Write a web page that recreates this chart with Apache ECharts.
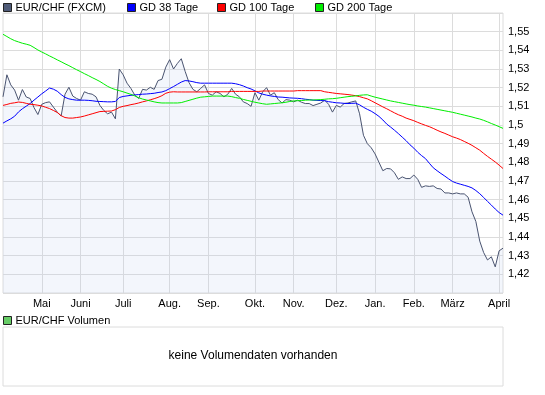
<!DOCTYPE html>
<html><head><meta charset="utf-8">
<script src="https://cdn.jsdelivr.net/npm/echarts@6/dist/echarts.min.js"></script>
<style>html,body{margin:0;padding:0;background:#fff}#c{width:545px;height:395px}</style>
</head><body><div id="c"></div>
<script>
// Month segments (first one is the partial April 2009 segment, unlabeled)
const monthLabels = ['', 'Mai', 'Juni', 'Juli', 'Aug.', 'Sep.', 'Okt.', 'Nov.', 'Dez.', 'Jan.', 'Feb.', 'März', 'April'];

// EUR/CHF close, sampled about every second trading day, per month
const priceApr09 = [1.5151, 1.5269, 1.5215, 1.5187, 1.5133, 1.5190, 1.5150, 1.5142, 1.5093, 1.5056];
const priceMai   = [1.5111, 1.5120, 1.5124, 1.5096, 1.5069, 1.5048, 1.5165, 1.5202, 1.5155, 1.5142];
const priceJun   = [1.5133, 1.5178, 1.5169, 1.5165, 1.5151, 1.5105, 1.5078, 1.5060, 1.5069, 1.5033, 1.5300];
const priceJul   = [1.5269, 1.5224, 1.5196, 1.5160, 1.5142, 1.5191, 1.5187, 1.5202, 1.5191, 1.5238, 1.5245, 1.5310];
const priceAug   = [1.5350, 1.5300, 1.5330, 1.5355, 1.5287, 1.5227, 1.5191, 1.5178, 1.5196, 1.5215];
const priceSep   = [1.5169, 1.5160, 1.5178, 1.5169, 1.5151, 1.5165, 1.5196, 1.5165, 1.5151, 1.5124, 1.5115, 1.5100];
const priceOkt   = [1.5173, 1.5133, 1.5178, 1.5200, 1.5160, 1.5173, 1.5136, 1.5118, 1.5136, 1.5133];
const priceNov   = [1.5124, 1.5133, 1.5122, 1.5115, 1.5115, 1.5104, 1.5111, 1.5118, 1.5133, 1.5111, 1.5069];
const priceDez   = [1.5105, 1.5096, 1.5115, 1.5118, 1.5124, 1.5129, 1.5060, 1.4945, 1.4900, 1.4878];
const priceJan   = [1.4845, 1.4800, 1.4755, 1.4767, 1.4765, 1.4744, 1.4709, 1.4722, 1.4713, 1.4713];
const priceFeb   = [1.4732, 1.4709, 1.4666, 1.4674, 1.4671, 1.4674, 1.4660, 1.4657, 1.4636, 1.4636];
const priceMar   = [1.4631, 1.4636, 1.4631, 1.4631, 1.4613, 1.4535, 1.4483, 1.4378, 1.4317, 1.4277, 1.4294, 1.4240];
const priceApr10 = [1.4326, 1.4340];

const gd38 = [
  1.5010, 1.5022, 1.5033, 1.5047, 1.5070, 1.5087, 1.5101, 1.5115, 1.5133, 1.5150,
  1.5167, 1.5182, 1.5198, 1.5192, 1.5181, 1.5163, 1.5148, 1.5140, 1.5136, 1.5133,
  1.5133, 1.5133, 1.5132, 1.5130, 1.5127, 1.5126, 1.5125, 1.5124, 1.5124, 1.5126, 1.5147,
  1.5153, 1.5156, 1.5159, 1.5161, 1.5163, 1.5165, 1.5166, 1.5168, 1.5170, 1.5174, 1.5177, 1.5184,
  1.5195, 1.5206, 1.5218, 1.5230, 1.5238, 1.5236, 1.5232, 1.5227, 1.5224, 1.5224,
  1.5224, 1.5224, 1.5224, 1.5224, 1.5224, 1.5224, 1.5224, 1.5221, 1.5216, 1.5209, 1.5200, 1.5193,
  1.5183, 1.5172, 1.5165, 1.5160, 1.5156, 1.5153, 1.5150, 1.5149, 1.5147, 1.5145,
  1.5144, 1.5143, 1.5141, 1.5138, 1.5136, 1.5133, 1.5132, 1.5131, 1.5130, 1.5125, 1.5122,
  1.5119, 1.5118, 1.5116, 1.5115, 1.5116, 1.5117, 1.5108, 1.5095, 1.5084, 1.5074,
  1.5061, 1.5046, 1.5027, 1.5005, 1.4989, 1.4972, 1.4954, 1.4935, 1.4916, 1.4894,
  1.4876, 1.4854, 1.4836, 1.4820, 1.4795, 1.4771, 1.4755, 1.4740, 1.4726, 1.4711,
  1.4697, 1.4689, 1.4683, 1.4677, 1.4671, 1.4663, 1.4649, 1.4632, 1.4612, 1.4591, 1.4571, 1.4550,
  1.4531, 1.4517
];
const gd100 = [
  1.5105, 1.5110, 1.5116, 1.5119, 1.5123, 1.5121, 1.5116, 1.5111, 1.5109, 1.5106,
  1.5102, 1.5095, 1.5088, 1.5078, 1.5067, 1.5050, 1.5040, 1.5037, 1.5037, 1.5040,
  1.5043, 1.5048, 1.5054, 1.5060, 1.5066, 1.5072, 1.5073, 1.5074, 1.5075, 1.5082, 1.5094,
  1.5100, 1.5104, 1.5109, 1.5113, 1.5118, 1.5124, 1.5129, 1.5135, 1.5141, 1.5148, 1.5157, 1.5170,
  1.5176, 1.5178, 1.5177, 1.5177, 1.5177, 1.5177, 1.5177, 1.5177, 1.5177, 1.5177,
  1.5178, 1.5178, 1.5178, 1.5178, 1.5178, 1.5178, 1.5180, 1.5180, 1.5180, 1.5180, 1.5180, 1.5180,
  1.5180, 1.5180, 1.5182, 1.5182, 1.5182, 1.5182, 1.5182, 1.5182, 1.5182, 1.5182,
  1.5182, 1.5184, 1.5184, 1.5184, 1.5184, 1.5184, 1.5184, 1.5184, 1.5178, 1.5175, 1.5172,
  1.5169, 1.5167, 1.5165, 1.5163, 1.5160, 1.5157, 1.5152, 1.5146, 1.5140, 1.5130,
  1.5119, 1.5108, 1.5097, 1.5087, 1.5076, 1.5065, 1.5055, 1.5047, 1.5037, 1.5030,
  1.5023, 1.5014, 1.5006, 1.4998, 1.4991, 1.4982, 1.4972, 1.4963, 1.4955, 1.4946,
  1.4937, 1.4930, 1.4922, 1.4912, 1.4902, 1.4891, 1.4878, 1.4865, 1.4848, 1.4832, 1.4817, 1.4802,
  1.4785, 1.4767
];
const gd200 = [
  1.5486, 1.5474, 1.5462, 1.5452, 1.5445, 1.5438, 1.5433, 1.5427, 1.5415, 1.5402,
  1.5391, 1.5381, 1.5370, 1.5360, 1.5349, 1.5339, 1.5328, 1.5318, 1.5307, 1.5296,
  1.5286, 1.5275, 1.5265, 1.5254, 1.5244, 1.5233, 1.5220, 1.5207, 1.5197, 1.5190, 1.5184,
  1.5178, 1.5171, 1.5164, 1.5156, 1.5146, 1.5139, 1.5134, 1.5129, 1.5124, 1.5120, 1.5118, 1.5118,
  1.5118, 1.5118, 1.5118, 1.5120, 1.5126, 1.5132, 1.5138, 1.5144, 1.5149, 1.5151,
  1.5153, 1.5155, 1.5155, 1.5155, 1.5155, 1.5155, 1.5152, 1.5147, 1.5143, 1.5137, 1.5132, 1.5127,
  1.5122, 1.5118, 1.5114, 1.5111, 1.5113, 1.5115, 1.5117, 1.5119, 1.5122, 1.5126,
  1.5129, 1.5130, 1.5131, 1.5133, 1.5134, 1.5134, 1.5135, 1.5136, 1.5138, 1.5140, 1.5141,
  1.5143, 1.5146, 1.5149, 1.5152, 1.5154, 1.5156, 1.5159, 1.5161, 1.5162, 1.5155,
  1.5149, 1.5144, 1.5139, 1.5134, 1.5129, 1.5125, 1.5121, 1.5117, 1.5113, 1.5109,
  1.5106, 1.5102, 1.5099, 1.5096, 1.5092, 1.5088, 1.5084, 1.5080, 1.5076, 1.5072,
  1.5068, 1.5063, 1.5058, 1.5053, 1.5048, 1.5043, 1.5037, 1.5032, 1.5025, 1.5017, 1.5008, 1.5000,
  1.4991, 1.4982
];

const yTickValues = [1.42, 1.43, 1.44, 1.45, 1.46, 1.47, 1.48, 1.49, 1.50, 1.51, 1.52, 1.53, 1.54, 1.55];
const volumeNote = 'keine Volumendaten vorhanden';

const priceByMonth = [priceApr09, priceMai, priceJun, priceJul, priceAug, priceSep, priceOkt,
  priceNov, priceDez, priceJan, priceFeb, priceMar, priceApr10];

const categories = [];
const catLabel = {};
const price = [];
priceByMonth.forEach((arr, m) => {
  arr.forEach((v, k) => {
    const key = m + '-' + k;
    categories.push(key);
    catLabel[key] = k === 0 ? monthLabels[m] : '';
    price.push(v);
  });
});
const isMonthTick = (idx, val) => catLabel[val] !== '' && catLabel[val] !== undefined;

const FONT = 'Liberation Sans, Arial, Helvetica, sans-serif';
const GRID_COLOR = '#dcdcdc';

const legendBase = {
  padding: 0, itemWidth: 8, itemHeight: 8, icon: 'rect', itemGap: 0, selectedMode: false,
  textStyle: { fontSize: 11, color: '#000', fontFamily: FONT, padding: [0, 0, 0, -1] },
  itemStyle: { borderColor: '#222', borderWidth: 1 }
};

const chart = echarts.init(document.getElementById('c'), null, { renderer: 'canvas' });
chart.setOption({
  animation: false,
  backgroundColor: '#fff',
  textStyle: { fontFamily: FONT },
  legend: [
    Object.assign({}, legendBase, { left: 3, top: 2, data: ['EUR/CHF (FXCM)'] }),
    Object.assign({}, legendBase, { left: 127, top: 2, data: ['GD 38 Tage'] }),
    Object.assign({}, legendBase, { left: 217, top: 2, data: ['GD 100 Tage'] }),
    Object.assign({}, legendBase, { left: 315, top: 2, data: ['GD 200 Tage'] }),
    Object.assign({}, legendBase, { left: 3, top: 315, data: ['EUR/CHF Volumen'] })
  ],
  grid: [
    { left: 3, top: 13, width: 500, height: 280, show: true, borderColor: GRID_COLOR, borderWidth: 1, backgroundColor: 'transparent' },
    { left: 3, top: 327, width: 500, height: 59, show: true, borderColor: GRID_COLOR, borderWidth: 1, backgroundColor: 'transparent' }
  ],
  xAxis: [
    {
      type: 'category', gridIndex: 0, data: categories, boundaryGap: false,
      axisLine: { show: false }, axisTick: { show: false },
      axisLabel: { interval: isMonthTick, formatter: v => catLabel[v], color: '#000', fontSize: 11, margin: 5, fontFamily: FONT },
      splitLine: { show: true, interval: isMonthTick, lineStyle: { color: GRID_COLOR, width: 1 } }
    },
    { type: 'category', gridIndex: 1, data: [], show: false }
  ],
  yAxis: [
    {
      type: 'value', gridIndex: 0, position: 'right', min: 1.41, max: 1.56, interval: 0.01,
      axisLine: { show: false }, axisTick: { show: false },
      axisLabel: {
        color: '#000', fontSize: 11, margin: 5, fontFamily: FONT,
        formatter: v => {
          const t = yTickValues.find(x => Math.abs(x - v) < 1e-6);
          if (t === undefined) return '';
          return t.toFixed(2).replace(/0$/, '').replace('.', ',');
        }
      },
      splitLine: { show: true, lineStyle: { color: GRID_COLOR, width: 1 } }
    },
    { type: 'value', gridIndex: 1, show: false, min: 0, max: 1 }
  ],
  series: [
    {
      name: 'EUR/CHF (FXCM)', type: 'line', xAxisIndex: 0, yAxisIndex: 0, data: price,
      symbol: 'none', color: '#4f5b78', z: 2,
      lineStyle: { color: '#4a5470', width: 1 },
      itemStyle: { color: '#4f5b78' },
      areaStyle: { color: 'rgba(190,205,240,0.26)', origin: 'start' }
    },
    { name: 'GD 38 Tage', type: 'line', data: gd38, symbol: 'none', color: '#0000ff', z: 3,
      lineStyle: { color: '#0000ff', width: 1 }, itemStyle: { color: '#0000ff' } },
    { name: 'GD 100 Tage', type: 'line', data: gd100, symbol: 'none', color: '#ff0000', z: 3,
      lineStyle: { color: '#ff0000', width: 1 }, itemStyle: { color: '#ff0000' } },
    { name: 'GD 200 Tage', type: 'line', data: gd200, symbol: 'none', color: '#00ee00', z: 3,
      lineStyle: { color: '#00ee00', width: 1 }, itemStyle: { color: '#00ee00' } },
    { name: 'EUR/CHF Volumen', type: 'line', xAxisIndex: 1, yAxisIndex: 1, data: [], symbol: 'none',
      color: '#66cc66', itemStyle: { color: '#66cc66' } }
  ],
  graphic: [
    { type: 'text', x: 253, y: 356, style: { text: volumeNote, textAlign: 'center', textVerticalAlign: 'middle',
      font: '12px ' + FONT, fill: '#000' } }
  ]
});
</script>
</body></html>
